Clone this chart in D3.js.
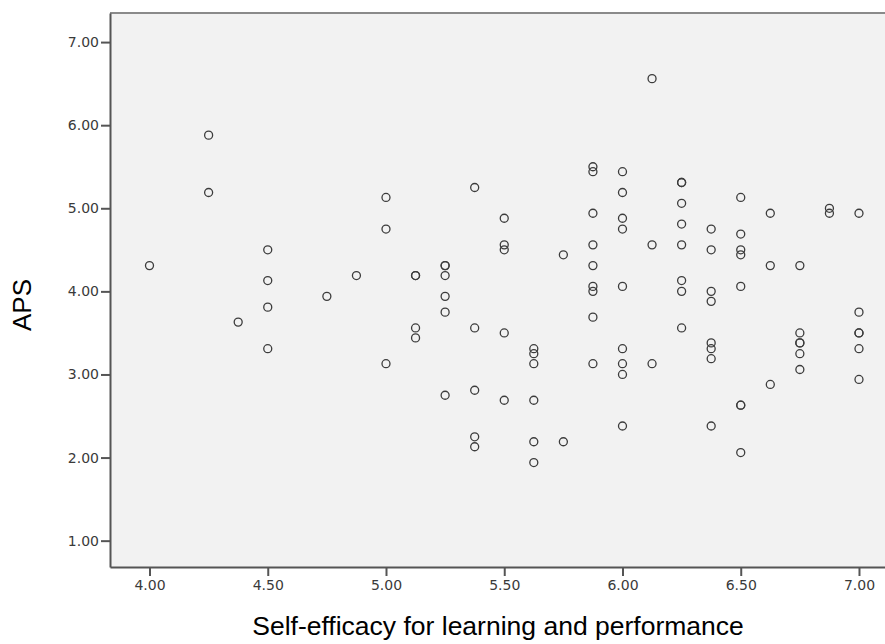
<!DOCTYPE html>
<html>
<head>
<meta charset="utf-8">
<script src="https://cdn.jsdelivr.net/npm/d3@7"></script>
<style>
  html, body { margin: 0; padding: 0; background: #ffffff; }
  svg { display: block; }
</style>
</head>
<body>
<svg id="chart" width="885" height="644"></svg>
<script>
// Self-efficacy (x) values and APS (y) values
const selfEfficacy = [
  4.00,
  4.25, 4.25,
  4.375,
  4.50, 4.50, 4.50, 4.50,
  4.75,
  4.875,
  5.00, 5.00, 5.00,
  5.125, 5.125, 5.125, 5.125,
  5.25, 5.25, 5.25, 5.25, 5.25, 5.25,
  5.375, 5.375, 5.375, 5.375, 5.375,
  5.50, 5.50, 5.50, 5.50, 5.50,
  5.625, 5.625, 5.625, 5.625, 5.625, 5.625,
  5.75, 5.75,
  5.875, 5.875, 5.875, 5.875, 5.875, 5.875, 5.875, 5.875, 5.875,
  6.00, 6.00, 6.00, 6.00, 6.00, 6.00, 6.00, 6.00, 6.00,
  6.125, 6.125, 6.125,
  6.25, 6.25, 6.25, 6.25, 6.25, 6.25, 6.25, 6.25,
  6.375, 6.375, 6.375, 6.375, 6.375, 6.375, 6.375, 6.375,
  6.50, 6.50, 6.50, 6.50, 6.50, 6.50, 6.50, 6.50,
  6.625, 6.625, 6.625,
  6.75, 6.75, 6.75, 6.75, 6.75, 6.75,
  6.875, 6.875,
  7.00, 7.00, 7.00, 7.00, 7.00, 7.00
];
const aps = [
  4.31,
  5.88, 5.19,
  3.63,
  4.50, 4.13, 3.81, 3.31,
  3.94,
  4.19,
  5.13, 4.75, 3.13,
  4.19, 4.19, 3.56, 3.44,
  4.31, 4.31, 4.19, 3.94, 3.75, 2.75,
  5.25, 3.56, 2.81, 2.25, 2.13,
  4.88, 4.56, 4.50, 3.50, 2.69,
  3.31, 3.25, 3.13, 2.69, 2.19, 1.94,
  4.44, 2.19,
  5.50, 5.44, 4.94, 4.56, 4.31, 4.06, 4.00, 3.69, 3.13,
  5.44, 5.19, 4.88, 4.75, 4.06, 3.31, 3.13, 3.00, 2.38,
  6.56, 4.56, 3.13,
  5.31, 5.31, 5.06, 4.81, 4.56, 4.13, 4.00, 3.56,
  4.75, 4.50, 4.00, 3.88, 3.38, 3.31, 3.19, 2.38,
  5.13, 4.69, 4.50, 4.44, 4.06, 2.63, 2.63, 2.06,
  4.94, 4.31, 2.88,
  4.31, 3.50, 3.38, 3.38, 3.25, 3.06,
  5.00, 4.94,
  4.94, 3.75, 3.50, 3.50, 3.31, 2.94
];
const xTicks = [4.0, 4.5, 5.0, 5.5, 6.0, 6.5, 7.0];
const yTicks = [1, 2, 3, 4, 5, 6, 7];
const xTitle = "Self-efficacy for learning and performance";
const yTitle = "APS";

const points = selfEfficacy.map((v, i) => ({ x: v, y: aps[i] }));

const svg = d3.select("#chart");
const plot = { left: 110, right: 885, top: 13, bottom: 567 };

const x = d3.scaleLinear().domain([3.833, 7.11]).range([plot.left, plot.right]);
const y = d3.scaleLinear().domain([0.683, 7.35]).range([plot.bottom, plot.top]);

// plot background
svg.append("rect")
  .attr("x", plot.left).attr("y", plot.top)
  .attr("width", plot.right - plot.left).attr("height", plot.bottom - plot.top)
  .attr("fill", "#f2f2f2");

// top border
svg.append("line")
  .attr("x1", plot.left).attr("x2", plot.right)
  .attr("y1", plot.top).attr("y2", plot.top)
  .attr("stroke", "#8a8a8a").attr("stroke-width", 2);

const tickFont = "'DejaVu Sans', Verdana, sans-serif";

// x axis
const xAxis = d3.axisBottom(x).tickValues(xTicks).tickFormat(d3.format(".2f"))
  .tickSizeInner(9).tickSizeOuter(0).tickPadding(4);
const gx = svg.append("g").attr("transform", `translate(0,${plot.bottom})`).call(xAxis);
gx.select(".domain").attr("stroke", "#555").attr("stroke-width", 2);
gx.selectAll(".tick line").attr("stroke", "#555").attr("stroke-width", 2);
gx.selectAll(".tick text").attr("fill", "#3a3a3a")
  .style("font-family", tickFont).style("font-size", "14px");

// y axis
const yAxis = d3.axisLeft(y).tickValues(yTicks).tickFormat(d3.format(".2f"))
  .tickSizeInner(9).tickSizeOuter(0).tickPadding(2);
const gy = svg.append("g").attr("transform", `translate(${plot.left},0)`).call(yAxis);
gy.select(".domain").attr("stroke", "#555").attr("stroke-width", 2);
gy.selectAll(".tick line").attr("stroke", "#555").attr("stroke-width", 2);
gy.selectAll(".tick text").attr("fill", "#3a3a3a")
  .style("font-family", tickFont).style("font-size", "14px");

// points
svg.append("g").selectAll("circle").data(points).enter().append("circle")
  .attr("cx", d => x(d.x)).attr("cy", d => y(d.y))
  .attr("r", 4)
  .attr("fill", "none")
  .attr("stroke", "#3c3c3c")
  .attr("stroke-width", 1.3);

// axis titles
const titleFont = "'Liberation Sans', Arial, Helvetica, sans-serif";
svg.append("text")
  .attr("x", 498).attr("y", 635)
  .attr("text-anchor", "middle")
  .style("font-family", titleFont).style("font-size", "26.5px")
  .attr("fill", "#000")
  .text(xTitle);

svg.append("text")
  .attr("transform", "translate(31,305) rotate(-90)")
  .attr("text-anchor", "middle")
  .style("font-family", titleFont).style("font-size", "26px")
  .attr("fill", "#000")
  .text(yTitle);
</script>
</body>
</html>
